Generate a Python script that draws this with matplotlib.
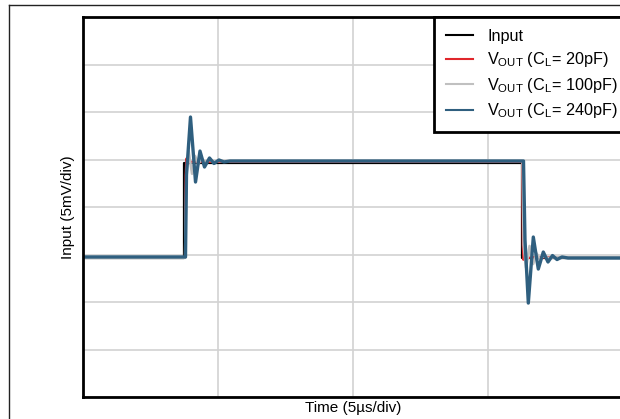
import matplotlib
matplotlib.use("Agg")
import matplotlib.pyplot as plt
from matplotlib.lines import Line2D

plt.rcParams["font.family"] = ["Liberation Sans", "DejaVu Sans"]
plt.rcParams["mathtext.fontset"] = "custom"
plt.rcParams["mathtext.rm"] = "Liberation Sans"
plt.rcParams["mathtext.it"] = "Liberation Sans:italic"

# Time in µs (5 µs per division), voltage in mV (5 mV per division)
t_input = [0.0, 3.75, 3.75, 16.25, 16.25, 20.5]
v_input = [14.6, 14.6, 24.65, 24.65, 14.6, 14.6]

t_20pf = [0.0, 3.78, 3.80, 3.83, 3.89, 3.94, 4.0, 16.27, 16.29, 16.31, 16.37, 16.45, 16.6, 20.5]
v_20pf = [14.65, 14.65, 23.3, 25.1, 24.55, 24.85, 24.75, 24.75, 16.0, 14.45, 14.9, 14.6, 14.7, 14.7]

t_100pf = [0.0, 3.78, 3.83, 3.91, 4.04, 4.15, 4.27, 4.39, 4.52, 4.65, 4.8, 5.0,
           16.28, 16.32, 16.41, 16.54, 16.67, 16.80, 16.93, 17.06, 17.22, 17.45, 20.5]
v_100pf = [14.65, 14.65, 23.4, 25.9, 23.5, 25.37, 24.5, 25.11, 24.7, 24.97, 24.84, 24.84,
           24.84, 16.0, 13.6, 15.9, 14.0, 15.11, 14.47, 14.84, 14.63, 14.7, 14.7]

t_240pf = [0.0, 3.796, 3.833, 3.981, 4.167, 4.333, 4.5, 4.685, 4.852, 5.037, 5.222, 5.444, 16.0,
           16.315, 16.37, 16.493, 16.678, 16.863, 17.048, 17.222, 17.389, 17.556, 17.741, 17.963, 20.5]
v_240pf = [14.74, 14.74, 23.37, 29.47, 22.63, 25.89, 24.21, 25.16, 24.58, 24.95, 24.74, 24.84, 24.84,
           24.84, 16.53, 9.89, 16.84, 13.47, 15.26, 14.21, 14.89, 14.47, 14.74, 14.63, 14.63]

series_labels = ["Input",
                 r"V$_{\mathrm{OUT}}$ (C$_{\mathrm{L}}$= 20pF)",
                 r"V$_{\mathrm{OUT}}$ (C$_{\mathrm{L}}$= 100pF)",
                 r"V$_{\mathrm{OUT}}$ (C$_{\mathrm{L}}$= 240pF)"]

x_grid = [0, 5, 10, 15, 20]
y_grid = [0, 5, 10, 15, 20, 25, 30, 35, 40]

W, H = 620, 419
fig = plt.figure(figsize=(W / 100, H / 100), dpi=100)
ax = fig.add_axes([83 / W, 22 / H, 540 / W, 380 / H])

colors = ["#000000", "#E0262B", "#C0C0C0", "#2F5F7F"]
widths = [1.6, 1.6, 1.9, 2.4]
traces = [(t_input, v_input), (t_20pf, v_20pf), (t_100pf, v_100pf), (t_240pf, v_240pf)]
handles = []
for (t, v), c, lw, lab in zip(traces, colors, widths, series_labels):
    ax.plot(t, v, color=c, lw=lw, label=lab, solid_joinstyle="round")
    handles.append(Line2D([], [], color=c, lw=1.5))

ax.set_xlim(x_grid[0], x_grid[-1])
ax.set_ylim(y_grid[0], y_grid[-1])
ax.set_xticks(x_grid)
ax.set_yticks(y_grid)
ax.tick_params(length=0, labelbottom=False, labelleft=False)
ax.grid(True, color="#D2D2D2", lw=1.2)
ax.set_axisbelow(True)
for s in ax.spines.values():
    s.set_linewidth(2.0)
    s.set_color("black")

ax.set_xlabel("Time (5µs/div)", fontsize=11, labelpad=3)
ax.set_ylabel("Input (5mV/div)", fontsize=11, labelpad=5.5)

leg = ax.legend(handles, series_labels, loc="upper left",
                bbox_to_anchor=(434 / W, 1 - 17 / H), bbox_transform=fig.transFigure,
                fancybox=False, edgecolor="black", framealpha=1, borderaxespad=0,
                fontsize=11.7, handlelength=1.7, handletextpad=0.87,
                labelspacing=0.4, borderpad=0.72)
leg.get_frame().set_linewidth(2.0)

# Outer page frame
fig.add_artist(Line2D([8.5 / W, 1], [1 - 5.5 / H, 1 - 5.5 / H], color="#222222", lw=1.0))
fig.add_artist(Line2D([8.5 / W, 8.5 / W], [0, 1 - 5.5 / H], color="#222222", lw=1.0))

fig.savefig("out.png", dpi=100)
